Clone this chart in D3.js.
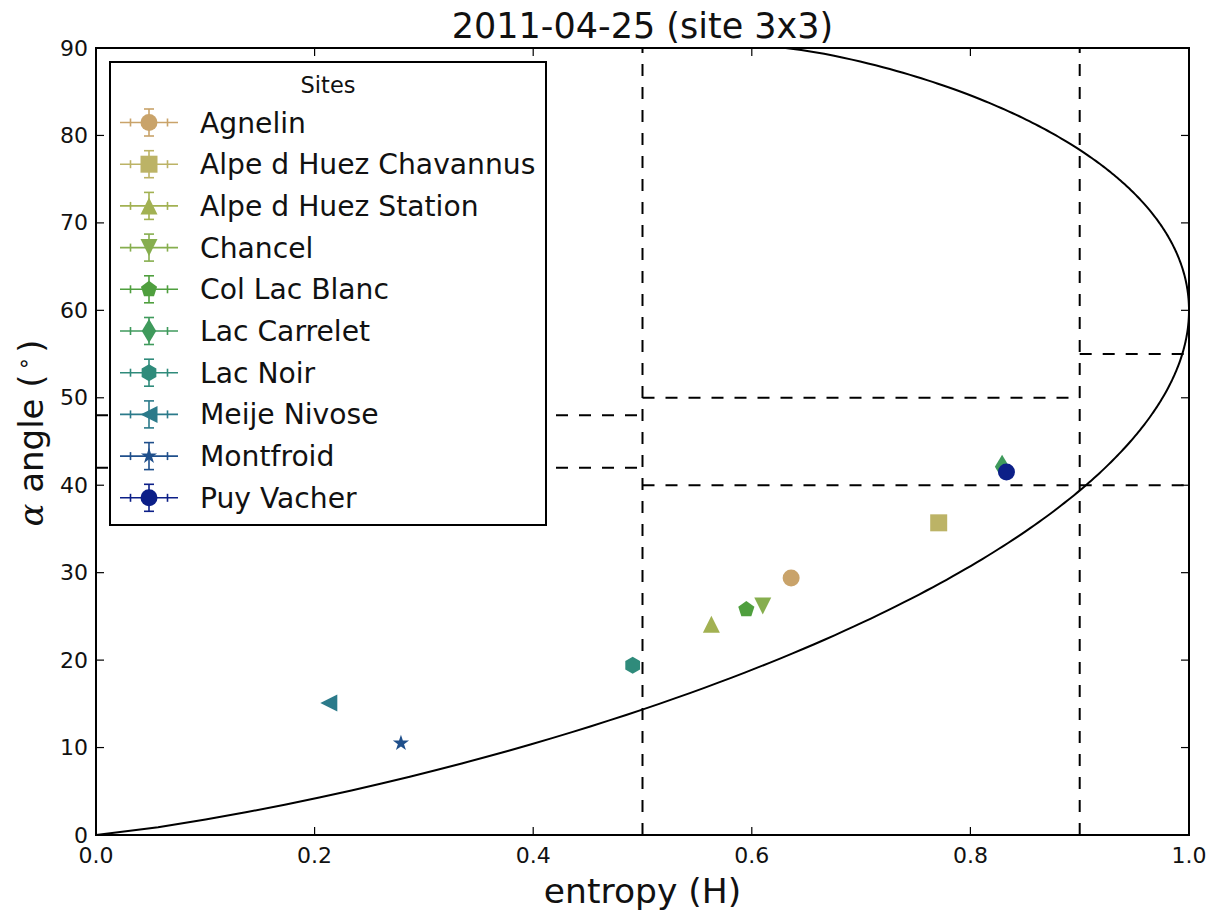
<!DOCTYPE html>
<html>
<head>
<meta charset="utf-8">
<script src="https://cdn.jsdelivr.net/npm/d3@7"></script>
<style>
  html, body { margin: 0; padding: 0; background: #fff; }
  svg { display: block; font-family: "DejaVu Sans", sans-serif; }
</style>
</head>
<body>
<svg id="chart" width="1210" height="911"></svg>
<script>
// Sites and their mean H / alpha values
const sites = ["Agnelin", "Alpe d Huez Chavannus", "Alpe d Huez Station", "Chancel",
  "Col Lac Blanc", "Lac Carrelet", "Lac Noir", "Meije Nivose", "Montfroid", "Puy Vacher"];
const entropy = [0.636, 0.771, 0.563, 0.610, 0.595, 0.829, 0.491, 0.213, 0.279, 0.833];
const alphaAngle = [29.4, 35.7, 24.1, 26.2, 25.8, 42.1, 19.4, 15.1, 10.5, 41.5];
const markers = ["o", "s", "^", "v", "p", "d", "h", "<", "*", "o"];
const colors = ["#c9a36a", "#bcb366", "#a2b152", "#86ae4e", "#4f9f3e",
  "#3f9a5c", "#2f8b7b", "#2b7a8a", "#1f4f8b", "#0c1f88"];

// Axis ticks
const xTicks = [0.0, 0.2, 0.4, 0.6, 0.8, 1.0];
const xTickLabels = ["0.0", "0.2", "0.4", "0.6", "0.8", "1.0"];
const yTicks = [0, 10, 20, 30, 40, 50, 60, 70, 80, 90];
const yTickLabels = ["0", "10", "20", "30", "40", "50", "60", "70", "80", "90"];

// H/alpha zone boundaries
const zoneVertical = [0.5, 0.9];
const zoneHorizX0 = [0.0, 0.0, 0.5, 0.5, 0.9, 0.9];
const zoneHorizX1 = [0.5, 0.5, 0.9, 0.9, 1.0, 1.0];
const zoneHorizY = [48, 42, 50, 40, 55, 40];

(function draw() {
const svg = d3.select("#chart");
const pL = 96, pR = 1189, pT = 48, pB = 835;
const x = d3.scaleLinear().domain([0, 1]).range([pL, pR]);
const y = d3.scaleLinear().domain([0, 90]).range([pB, pT]);

svg.append("defs").append("clipPath").attr("id", "plotClip")
  .append("rect").attr("x", pL).attr("y", pT)
  .attr("width", pR - pL).attr("height", pB - pT);

const plot = svg.append("g").attr("clip-path", "url(#plotClip)");

// Feasible-region boundary of the H/alpha plane
const log3 = v => (v > 0 ? Math.log(v) / Math.log(3) : 0);
const entropyOf = p => -p.reduce((s, v) => s + (v > 0 ? v * log3(v) : 0), 0);
const lowerCurve = d3.range(0, 1.0001, 0.005).map(m => {
  const t = 1 + 2 * m;
  const p = [1 / t, m / t, m / t];
  return [entropyOf(p), 90 * 2 * m / t];
});
const upperCurve = d3.range(0.5, 1.0001, 0.0025).map(m => {
  const t = 2 * m + 1;
  const p = [(2 * m - 1) / t, 1 / t, 1 / t];
  return [entropyOf(p), 90 * 2 / t];
});
const line = d3.line().x(d => x(d[0])).y(d => y(d[1]));
[lowerCurve, upperCurve].forEach(c => {
  plot.append("path").attr("d", line(c))
    .attr("fill", "none").attr("stroke", "#000").attr("stroke-width", 2);
});

// Zone boundaries (dashed)
zoneVertical.forEach(v => {
  plot.append("line")
    .attr("x1", x(v)).attr("x2", x(v)).attr("y1", y(0)).attr("y2", y(90))
    .attr("stroke", "#000").attr("stroke-width", 2).attr("stroke-dasharray", "12,11");
});
zoneHorizY.forEach((h, i) => {
  plot.append("line")
    .attr("x1", x(zoneHorizX0[i])).attr("x2", x(zoneHorizX1[i]))
    .attr("y1", y(h)).attr("y2", y(h))
    .attr("stroke", "#000").attr("stroke-width", 2).attr("stroke-dasharray", "12,11");
});

// Marker shapes, sized like matplotlib markers of size ms (px)
const ms = 17;
function polygon(pts) { return "M" + pts.map(p => p[0].toFixed(2) + "," + p[1].toFixed(2)).join("L") + "Z"; }
function regular(n, r, rot) {
  return d3.range(n).map(i => {
    const a = rot + i * 2 * Math.PI / n;
    return [r * Math.sin(a), -r * Math.cos(a)];
  });
}
function markerPath(kind) {
  const h = ms / 2;
  switch (kind) {
    case "o": return `M${h},0A${h},${h} 0 1,1 ${-h},0A${h},${h} 0 1,1 ${h},0Z`;
    case "s": return polygon([[-h, -h], [h, -h], [h, h], [-h, h]]);
    case "^": return polygon([[0, -h], [h, h], [-h, h]]);
    case "v": return polygon([[0, h], [h, -h], [-h, -h]]);
    case "<": return polygon([[-h, 0], [h, -h], [h, h]]);
    case "p": return polygon(regular(5, h, 0));
    case "h": return polygon(regular(6, h, 0));
    case "d": {
      const dy = 0.7071 * ms, dx = 0.6 * 0.7071 * ms;
      return polygon([[0, -dy], [dx, 0], [0, dy], [-dx, 0]]);
    }
    case "*": {
      const pts = [];
      for (let i = 0; i < 10; i++) {
        const r = i % 2 === 0 ? h : h * 0.381966;
        const a = i * Math.PI / 5;
        pts.push([r * Math.sin(a), -r * Math.cos(a)]);
      }
      return polygon(pts);
    }
  }
}

// Data points
sites.forEach((s, i) => {
  plot.append("path")
    .attr("d", markerPath(markers[i]))
    .attr("transform", `translate(${x(entropy[i])},${y(alphaAngle[i])})`)
    .attr("fill", colors[i]);
});

// Frame and ticks (inward, all four sides)
const frame = svg.append("g");
frame.append("rect").attr("x", pL).attr("y", pT)
  .attr("width", pR - pL).attr("height", pB - pT)
  .attr("fill", "none").attr("stroke", "#000").attr("stroke-width", 2);
const tickLen = 8;
xTicks.forEach((t, i) => {
  frame.append("line").attr("x1", x(t)).attr("x2", x(t)).attr("y1", pB).attr("y2", pB - tickLen)
    .attr("stroke", "#000").attr("stroke-width", 1.2);
  frame.append("line").attr("x1", x(t)).attr("x2", x(t)).attr("y1", pT).attr("y2", pT + tickLen)
    .attr("stroke", "#000").attr("stroke-width", 1.2);
  frame.append("text").attr("x", x(t)).attr("y", pB + 28)
    .attr("text-anchor", "middle").attr("font-size", 22).attr("fill", "#111")
    .text(xTickLabels[i]);
});
yTicks.forEach((t, i) => {
  frame.append("line").attr("x1", pL).attr("x2", pL + tickLen).attr("y1", y(t)).attr("y2", y(t))
    .attr("stroke", "#000").attr("stroke-width", 1.2);
  frame.append("line").attr("x1", pR).attr("x2", pR - tickLen).attr("y1", y(t)).attr("y2", y(t))
    .attr("stroke", "#000").attr("stroke-width", 1.2);
  frame.append("text").attr("x", 88).attr("y", y(t) + 7.5)
    .attr("text-anchor", "end").attr("font-size", 22).attr("fill", "#111")
    .text(yTickLabels[i]);
});

// Title and axis labels
svg.append("text").attr("x", (pL + pR) / 2).attr("y", 38)
  .attr("text-anchor", "middle").attr("font-size", 35).attr("fill", "#111")
  .text("2011-04-25 (site 3x3)");
svg.append("text").attr("x", (pL + pR) / 2).attr("y", 903)
  .attr("text-anchor", "middle").attr("font-size", 34.5).attr("fill", "#111")
  .text("entropy (H)");
const yl = svg.append("text")
  .attr("transform", `translate(43,433) rotate(-90)`)
  .attr("text-anchor", "middle").attr("font-size", 34).attr("fill", "#111");
yl.append("tspan").attr("font-style", "italic").attr("font-family", "DejaVu Serif").text("α");
yl.append("tspan").text(" angle (");
yl.append("tspan").attr("font-size", 22).attr("dy", -12).attr("dx", 4).text("∘");
yl.append("tspan").attr("dy", 12).attr("dx", 4).text(")");

// Legend
const lg = svg.append("g");
lg.append("rect").attr("x", 110).attr("y", 62).attr("width", 436).attr("height", 463)
  .attr("fill", "#fff").attr("stroke", "#000").attr("stroke-width", 2);
lg.append("text").attr("x", 328).attr("y", 93).attr("text-anchor", "middle")
  .attr("font-size", 22.5).attr("fill", "#111").text("Sites");
const legendY0 = 122.5, legendStep = 41.7;
sites.forEach((s, i) => {
  const cy = legendY0 + i * legendStep;
  const cx = 149;
  const g = lg.append("g").attr("stroke", colors[i]).attr("stroke-width", 1.6);
  g.append("line").attr("x1", 120).attr("x2", 178).attr("y1", cy).attr("y2", cy);
  [130.5, 167.5].forEach(px => g.append("line").attr("x1", px).attr("x2", px)
    .attr("y1", cy - 4).attr("y2", cy + 4));
  g.append("line").attr("x1", cx).attr("x2", cx).attr("y1", cy - 13.5).attr("y2", cy + 13.5);
  [cy - 13.5, cy + 13.5].forEach(py => g.append("line").attr("x1", cx - 5).attr("x2", cx + 5)
    .attr("y1", py).attr("y2", py));
  lg.append("path").attr("d", markerPath(markers[i]))
    .attr("transform", `translate(${cx},${cy})`).attr("fill", colors[i]);
  lg.append("text").attr("x", 200).attr("y", cy + 10)
    .attr("font-size", 28.2).attr("fill", "#111").text(s);
});
})();
</script>
</body>
</html>
